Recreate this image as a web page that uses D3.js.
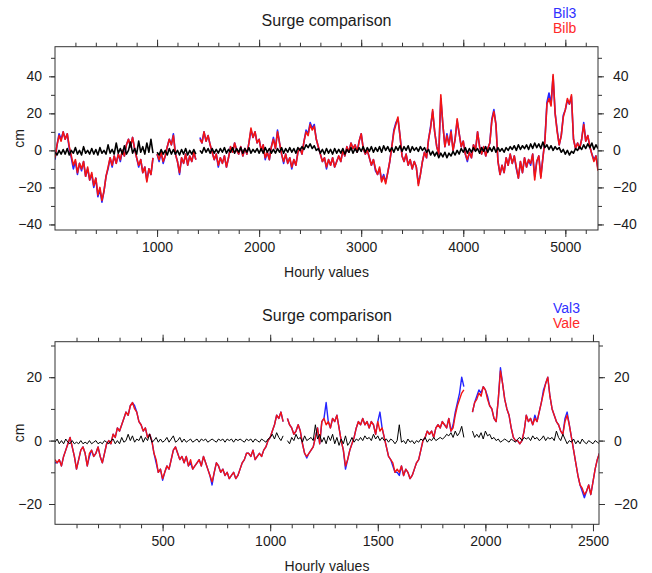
<!DOCTYPE html>
<html>
<head>
<meta charset="utf-8">
<script src="https://cdnjs.cloudflare.com/ajax/libs/d3/7.8.5/d3.min.js"></script>
<style>
  body { margin: 0; background: #fff; }
  svg text { font-family: "Liberation Sans", Arial, sans-serif; }
</style>
</head>
<body>
<div id="chart"></div>
<script>
// top panel: Bilbao, one value every 20 hours (null = missing)
const bilStep = 20;
const bil3 = [
  -5, 3, 9, 6, 10, 6, 9, 1, -4, -10,
  -6, -13, -7, -11, -6, -14, -10, -16, -13, -20,
  -15, -25, -21, -28, -22, -14, -10, -4, -9, -3,
  -7, -2, -6, 0, -3, 3, 6, 2, 7, 1,
  -4, -9, -5, -12, -9, -16, -10, -13, -4, null,
  -2, -6, -1, -7, -3, 2, 6, 3, 9, -2,
  -6, -13, -4, -7, -2, -8, -3, -6, -1, -5,
  null, 7, 4, 10, 5, 8, 3, -1, -5, -2,
  -9, -4, -7, -3, -9, -4, 2, -1, 4, 0,
  -2, 2, -3, 1, -2, 4, 11, 7, 10, 4,
  6, 0, 3, -5, -1, -5, 2, 7, 1, 11,
  4, -2, -7, -2, -7, -4, -10, -5, -8, -1,
  1, -2, 5, 11, 9, 15, 12, 14, 6, 2,
  -2, -6, -4, -10, -5, -8, -4, -9, -6, -3,
  -6, 0, -3, 2, -1, 4, 1, 3, -1, 5,
  9, 1, -2, 0, -4, -8, -5, -11, -13, -10,
  -16, -13, -17, -12, -6, 2, 11, 15, 17, 8,
  -3, -6, -2, -8, -5, -10, -6, -9, -18, -13,
  -6, -1, -4, 6, 13, 21, 10, 2, -2, 28,
  14, 2, 9, 3, 11, 0, 6, 16, 9, 2,
  5, -2, -6, -1, -4, 3, 0, 10, 2, -2,
  2, -3, 1, 4, 17, 22, 14, -6, -13, -8,
  -12, -4, -8, -2, -7, -3, -10, -15, -6, -12,
  -4, -9, -5, -8, -2, -14, -6, -3, -14, -4,
  6, 26, 31, 25, 40, 20, 11, 3, 8, 19,
  22, 27, 25, 29, 6, 1, 4, 1, 6, 15,
  5, 8, 2, -2, -5, -3, -10
];
const bilb = [
  -4, 3, 8, 5, 10, 6, 9, 2, -3, -8,
  -5, -12, -7, -10, -6, -14, -9, -16, -12, -19,
  -15, -24, -20, -27, -22, -14, -9, -4, -8, -3,
  -7, -2, -5, 0, -3, 3, 6, 2, 7, 1,
  -4, -8, -5, -12, -9, -17, -10, -13, -4, null,
  -2, -5, -1, -6, -3, 2, 6, 3, 8, -2,
  -6, -12, -4, -7, -2, -8, -3, -6, -1, -5,
  null, 6, 4, 10, 5, 8, 3, -1, -5, -2,
  -8, -4, -7, -3, -9, -4, 2, -1, 4, 0,
  -2, 2, -3, 1, -2, 4, 12, 7, 10, 4,
  6, 0, 3, -4, -1, -5, 2, 6, 1, 10,
  4, -2, -6, -2, -7, -4, -9, -5, -8, -1,
  1, -2, 5, 10, 8, 14, 11, 13, 6, 2,
  -2, -6, -4, -9, -5, -8, -4, -9, -6, -3,
  -6, 0, -3, 2, -1, 4, 1, 3, -1, 5,
  9, 1, -2, 0, -4, -8, -5, -10, -13, -9,
  -17, -14, -18, -12, -6, 2, 10, 14, 18, 8,
  -3, -6, -2, -8, -5, -10, -6, -9, -19, -13,
  -6, -1, -4, 6, 12, 22, 10, 2, -2, 30,
  14, 2, 8, 3, 10, 0, 6, 17, 9, 2,
  5, -2, -5, -1, -4, 3, 0, 10, 2, -2,
  2, -3, 1, 4, 16, 21, 14, -6, -13, -8,
  -12, -4, -8, -2, -7, -3, -9, -15, -6, -12,
  -4, -9, -5, -7, -2, -16, -6, -3, -15, -4,
  5, 25, 28, 24, 41, 20, 10, 3, 8, 18,
  22, 28, 25, 30, 6, 1, 4, 1, 6, 14,
  5, 8, 2, -2, -6, -3, -11
];
const bilDiff = [
  -1, -2.5, 0, -2, 0.5, -2, 1, -2.5, 0, -1.5,
  1.5, -2, 0, -2.5, 2, -1.5, 0, -2, 1, -2,
  0.5, -2.5, 1.5, -1.5, 0, -2, 3, -1.5, 0.5, -2,
  4, -1.5, 1, -2, 2.5, -2, 0, 4.5, -1.5, 1,
  -2, 5, -1, 2, -2, 4, -1, 6, -1.5, null,
  -1, -2.5, 0.5, -2, 0, -2.5, 1, -2, 0.5, -2,
  0, -2.5, 0.5, -2, 1, -2.5, 0, -2, 0.5, -2,
  null, 0, -1.5, 1.5, -1, 1, -1.5, 1, -1.5, 0.5,
  -1.5, 1, -1, 1.5, -1.5, 0.5, -1, 1.5, -1.5, 1,
  -1, 1.5, -1.5, 1, -1, 1.5, -1.5, 0.5, -1, 1,
  -1.5, 1, -1.5, 1.5, -1, 1, -1.5, 0.5, -1.5, 1,
  -1, 1.5, -1.5, 1, -1, 1.5, -1, 1, -1.5, 1.5,
  0, 2, 0.5, 3, 1.5, 3.5, 1, 2.5, 0, 1,
  -1.5, 0.5, -2, 1, -1.5, 0.5, -2, 1, -1.5, 0.5,
  -1.5, 1, -2, 0.5, -1, 1.5, -1.5, 1, -1, 1.5,
  -0.5, 2, -1, 1.5, -0.5, 2, -1, 1.5, -0.5, 2,
  -1, 2.5, 0, 2, -0.5, 1.5, -1, 2, 0, 2.5,
  -0.5, 2, 0, 2.5, -1, 2, 0, 1.5, -0.5, 2,
  0, 1.5, -1, 0.5, -2.5, -0.5, -3, -1, -4, -1.5,
  -3.5, -1, -4, -1.5, -3, -0.5, -2.5, 0, -2, 1,
  -1, 1.5, -1.5, 1, -1, 1.5, -0.5, 1, -1.5, 1.5,
  -0.5, 2, -1, 1.5, -0.5, 2, -1, 1.5, -0.5, 1,
  -1, 1.5, 0, 2, 0.5, 2.5, 0, 3, 0.5, 2.5,
  1, 3, 0.5, 3.5, 1, 4, 1.5, 3.5, 1, 4.5,
  1.5, 3, 0.5, 2.5, 0, 2, 0.5, 1.5, -1, 0.5,
  -2, 0, -2.5, -0.5, -1.5, 1, 0, 2, 0.5, 3,
  1, 3.5, 1.5, 4, 0.5, 3, 1
];

// bottom panel: Valencia, one value every 10 hours
const valStep = 10;
const val3 = [
  -7, -7, -6, -8, -5, -3, -1, 1, -2, -5,
  -9, -6, -3, -2, -4, -8, -5, -3, -5, -4,
  -2, -5, -7, -4, -1, 0, -1, 2, 1, 4,
  3, 5, 7, 9, 8, 11, 12, 11, 9, 6,
  5, 3, 4, 1, 2, 0, -4, -7, -10, -9,
  -12.5, -10, -8, -9, -6, -3, -2, -4, -6, -5,
  -7, -5, -8, -7, -9, -8, -7, -6, -8, -5,
  -7, -9, -11, -14, -10, -7, -8, -10, -9, -11,
  -10, -12, -11, -10, -12, -11, -9, -7, -6, -4,
  -4, -5, -3, -6, -5, -4, -5, -3, -2, 0,
  1, 3, 5, 8, 7, 9, 6, null, 7, 5,
  4, 2, 3, 5, 3, -1, -4, -5.5, -4, -3,
  -2, 1, 4, -1, 6, 7, 12, 6, 4, 7,
  6, 8, 4, 0, -3, -9, -6, -3, -1, 1,
  4, 6, 5, 7, 5, 6, 4, 6, 5, 2,
  6, 9, 4, 1, -2, -5, -6, -8, -10, -10,
  -11, -8, -11, -9, -10, -12, -11, -9, -7, -6,
  -3, 0, 1, 3, 2, 3, 1, 4, 5, 4,
  6, 5, 4, 7, 3, 5, 9, 12, 15, 20,
  17, null, null, null, 9, 12, 14, 16, 15, 17,
  16, 14, 11, 10, 7, 6, 13, 23, 18, 13,
  10, 8, 4, 1, 0, 0, -1, 0, 3, 8,
  6, 7, 5, 8, 6, 9, 12, 16, 18, 20,
  14, 10, 8, 6, 5, 3, 2, 7, 9, 5,
  1, -3, -7, -11, -14, -16, -18, -16, -14, -17,
  -13, -9, -6, -4
];
const vale = [
  -6, -7, -6, -8, -5, -3, -1, 1, -2, -5,
  -9, -6, -3, -2, -4, -8, -4, -3, -5, -4,
  -2, -5, -7, -4, -1, 0, -1, 2, 1, 4,
  3, 5, 7, 9, 8, 11, 12, 10, 9, 6,
  5, 3, 4, 1, 2, 0, -4, -6, -10, -9,
  -12, -10, -8, -9, -6, -3, -2, -4, -6, -5,
  -7, -5, -8, -6, -9, -8, -7, -6, -8, -5,
  -7, -9, -11, -13, -10, -7, -8, -10, -9, -11,
  -10, -12, -11, -10, -12, -11, -9, -7, -6, -4,
  -4, -5, -3, -6, -5, -4, -5, -3, -2, 0,
  1, 3, 5, 8, 7, 9, 6, null, 7, 5,
  4, 2, 3, 5, 3, -1, -4, -5, -4, -3,
  -2, 1, 4, -1, 6, 7, 5, 6, 4, 7,
  6, 8, 4, 0, -3, -8, -6, -3, -1, 1,
  4, 6, 5, 7, 5, 6, 4, 6, 5, 2,
  6, 3, 4, 1, -2, -5, -6, -7, -10, -9,
  -10, -8, -11, -9, -10, -12, -11, -9, -7, -6,
  -3, 0, 1, 3, 2, 3, 1, 4, 5, 4,
  6, 5, 4, 7, 3, 4, 8, 11, 13, 15,
  16, null, null, null, 9, 12, 13, 15, 14, 17,
  16, 13, 11, 10, 7, 6, 13, 22, 18, 13,
  10, 8, 4, 1, 0, 0, -1, 0, 3, 8,
  6, 7, 5, 7, 6, 9, 12, 15, 18, 20,
  14, 10, 8, 6, 5, 3, 2, 6, 8, 5,
  1, -3, -7, -11, -14, -15, -17, -16, -14, -17,
  -13, -9, -6, -4
];
const valDiff = [
  -0.5, 0.5, -1, 0, -1, 0.5, -0.5, -1, 0, -1,
  -0.5, -1, 0, -1, -0.5, -1, 0, -1, -0.5, 0,
  -1, -0.5, -1, 0, -0.5, -1, 0, 0.5, -1, 0,
  -1, 1, -0.5, 0, 2, 0, 1.5, -0.5, 0.5, 0,
  1.5, -0.5, 1, 0, 2, -0.5, 0, 1, -0.5, 0.5,
  -0.5, 0, 1, -0.5, 0.5, 1.5, -0.5, 0, 1, -0.5,
  0.5, -0.5, 0, 0.5, -0.5, 0, 0.5, -0.5, 0.5, 0,
  0.5, -0.5, 0, 0.5, 0, -0.5, 0.5, 0, 0.5, -0.5,
  0.5, 0, 0.5, -0.5, 0.5, 0, 0.5, 0, -0.5, 0.5,
  0, 0.5, -0.5, 0.5, 0, -0.5, 0.5, 0, -0.5, 0.5,
  1, 2, 0.5, 2.5, 1, 0, 1.5, null, 0, -1,
  1, 0, 2, 0.5, 1, -0.5, 1.5, 0, 0.5, 1,
  0, 5, 0.5, 2, -0.5, 1, -1, 1.5, 0, 2,
  -1, 1, -1.5, 0.5, -1, 1.5, -1.5, -0.5, 1, -0.5,
  0.5, 0, 1, 0, 1.5, 0.5, 1, 0, 2, 0.5,
  1.5, 0, 1, 0, 0.5, -0.5, 0.5, 0, -1, 0,
  5, -0.5, 0, -1, 0.5, -0.5, 0, -1, 0, -0.5,
  0.5, 0, 1, -0.5, 0.5, 0, 1, 0, 0.5, 1,
  0.5, 1, 2, 1.5, 2.5, 1, 3, 1.5, 2.5, 4.5,
  1, null, null, null, 3, 1, 2, 1, 2.5, 0.5,
  3, 1.5, 2, 0.5, 1, 0, 0.5, -0.5, 0, 0.5,
  0, -0.5, 0.5, 0, -0.5, 0.5, 1, 0, 1, 0.5,
  1, 0, 1.5, 0.5, 1, 0, 0.5, 1.5, 0, 1,
  0.5, 1, 0, 3, 1, 0, 2, 0.5, -1, 0,
  -0.5, 0.5, -1, 0, -1, 0.5, -0.5, -1, 0, -0.5,
  -1, 0, -0.5, -1
];

const bilXTicks = [1000, 2000, 3000, 4000, 5000];
const bilYTicks = [-40, -20, 0, 20, 40];
const valXTicks = [500, 1000, 1500, 2000, 2500];
const valYTicks = [-20, 0, 20];

const width = 652;
const height = 573;
const font = '"Liberation Sans", Arial, sans-serif';

const svg = d3.select('#chart').append('svg')
  .attr('width', width)
  .attr('height', height);

const fmt = (d) => (d < 0 ? '\u2212' + Math.abs(d) : String(d));

function tickGroup(axis, values, size, pad, labels, transform) {
  const g = svg.append('g')
    .attr('transform', transform)
    .call(axis.tickValues(values).tickSize(size).tickSizeOuter(0)
      .tickPadding(pad).tickFormat(labels ? fmt : () => ''));
  g.select('.domain').remove();
  g.attr('font-size', 14).attr('font-family', font).attr('color', '#333');
  g.selectAll('text').attr('fill', '#1c1c1c');
  return g;
}

function drawPanel(p) {
  const x = d3.scaleLinear().domain([0, p.xMax]).range([p.left, p.right]);
  const y = d3.scaleLinear().domain(p.yDomain).range([p.bottom, p.top]);

  const xMinor = d3.range(p.xMinor, p.xMax, p.xMinor);
  const yMinor = d3.range(Math.ceil(p.yDomain[0] / 10) * 10, p.yDomain[1], 10);

  // ticks on all four sides, pointing out of the frame
  tickGroup(d3.axisBottom(x), xMinor, 4, 8, false, `translate(0,${p.bottom})`);
  tickGroup(d3.axisBottom(x), p.xTicks, 7, 5, true, `translate(0,${p.bottom})`);
  tickGroup(d3.axisTop(x), xMinor, 4, 8, false, `translate(0,${p.top})`);
  tickGroup(d3.axisTop(x), p.xTicks, 7, 5, false, `translate(0,${p.top})`);
  tickGroup(d3.axisLeft(y), yMinor, 4, 8, false, `translate(${p.left},0)`);
  tickGroup(d3.axisLeft(y), p.yTicks, 6, 7, true, `translate(${p.left},0)`);
  tickGroup(d3.axisRight(y), yMinor, 4, 8, false, `translate(${p.right},0)`);
  tickGroup(d3.axisRight(y), p.yTicks, 6, 9, true, `translate(${p.right},0)`);

  const clipId = 'clip-' + p.id;
  svg.append('clipPath').attr('id', clipId)
    .append('rect')
    .attr('x', p.left).attr('y', p.top)
    .attr('width', p.right - p.left).attr('height', p.bottom - p.top);

  const line = d3.line()
    .defined((d) => d.v != null)
    .x((d) => x(d.h))
    .y((d) => y(d.v));

  const series = [
    { values: p.model, color: '#2424ff', w: p.lineW },
    { values: p.obs, color: '#f41414', w: p.lineW },
    { values: p.diff, color: '#000', w: p.diffW },
  ];
  svg.append('g').attr('clip-path', `url(#${clipId})`)
    .selectAll('path')
    .data(series)
    .join('path')
    .attr('fill', 'none')
    .attr('stroke', (s) => s.color)
    .attr('stroke-width', (s) => s.w)
    .attr('stroke-linejoin', 'round')
    .attr('d', (s) => line(s.values.map((v, i) => ({ h: i * p.step, v }))));

  svg.append('rect')
    .attr('x', p.left).attr('y', p.top)
    .attr('width', p.right - p.left).attr('height', p.bottom - p.top)
    .attr('fill', 'none')
    .attr('stroke', '#333')
    .attr('stroke-width', 1);

  const mid = (p.left + p.right) / 2;

  svg.append('text')
    .attr('x', mid).attr('y', p.top - 21)
    .attr('text-anchor', 'middle')
    .attr('font-size', 16)
    .attr('fill', '#1c1c1c')
    .text('Surge comparison');

  // two-line legend, stacked above the right end of the frame
  svg.append('text')
    .attr('x', 553).attr('y', p.top - 29)
    .attr('font-size', 14)
    .attr('fill', '#3030ff')
    .text(p.names[0]);
  svg.append('text')
    .attr('x', 553).attr('y', p.top - 14)
    .attr('font-size', 14)
    .attr('fill', '#ff2828')
    .text(p.names[1]);

  svg.append('text')
    .attr('x', mid).attr('y', p.bottom + 47)
    .attr('text-anchor', 'middle')
    .attr('font-size', 14)
    .attr('fill', '#1c1c1c')
    .text('Hourly values');

  svg.append('text')
    .attr('transform', `translate(24,${(p.top + p.bottom) / 2}) rotate(-90)`)
    .attr('text-anchor', 'middle')
    .attr('font-size', 14)
    .attr('fill', '#1c1c1c')
    .text('cm');
}

drawPanel({
  id: 'bil', left: 55, right: 598, top: 46.7, bottom: 230,
  xMax: 5320, xMinor: 200, xTicks: bilXTicks,
  yDomain: [-43, 56], yTicks: bilYTicks,
  step: bilStep, model: bil3, obs: bilb, diff: bilDiff,
  lineW: 1.6, diffW: 1.6,
  names: ['Bil3', 'Bilb'],
});

drawPanel({
  id: 'val', left: 55, right: 599, top: 341.7, bottom: 524.3,
  xMax: 2528, xMinor: 100, xTicks: valXTicks,
  yDomain: [-26.4, 31.2], yTicks: valYTicks,
  step: valStep, model: val3, obs: vale, diff: valDiff,
  lineW: 1.4, diffW: 1,
  names: ['Val3', 'Vale'],
});
</script>
</body>
</html>
